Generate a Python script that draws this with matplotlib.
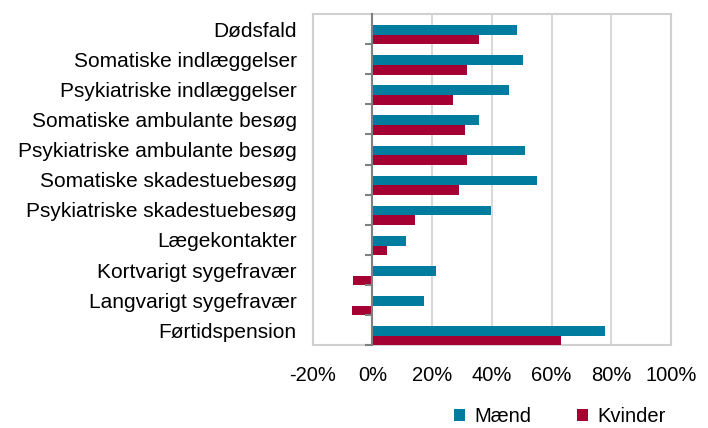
import matplotlib
matplotlib.use("Agg")
import matplotlib.pyplot as plt
import numpy as np
from matplotlib.ticker import FixedLocator

plt.rcParams['font.family'] = ['Liberation Sans', 'DejaVu Sans']

categories = ["Dødsfald", "Somatiske indlæggelser", "Psykiatriske indlæggelser",
              "Somatiske ambulante besøg", "Psykiatriske ambulante besøg",
              "Somatiske skadestuebesøg", "Psykiatriske skadestuebesøg",
              "Lægekontakter", "Kortvarigt sygefravær", "Langvarigt sygefravær",
              "Førtidspension"]
maend = [48.3, 50.4, 45.7, 35.6, 51.0, 55.0, 39.6, 11.2, 21.2, 17.2, 77.8]
kvinder = [35.6, 31.6, 26.9, 30.9, 31.6, 28.9, 14.3, 5.0, -6.4, -7.0, 63.0]
xticks = [-20, 0, 20, 40, 60, 80, 100]
xticklabels = ["-20%", "0%", "20%", "40%", "60%", "80%", "100%"]

c_m = "#007C9E"
c_k = "#A50034"

fig = plt.figure(figsize=(7.08, 4.28), dpi=100)
ax = fig.add_axes([0.4417, 0.1932, 0.9477 - 0.4417, 0.9673 - 0.1932])

y = np.arange(len(categories))
h = 0.32
ax.barh(y + 0.03, maend, height=h, color=c_m, label="Mænd", zorder=3)
ax.barh(y + 0.35, kvinder, height=h, color=c_k, label="Kvinder", zorder=3)

ax.set_xlim(-20, 100)
ax.set_ylim(len(categories) - 0.5, -0.5)
ax.set_xticks(xticks)
ax.set_xticklabels(xticklabels, fontsize=14.5)
ax.set_yticks(y)
ax.set_yticklabels(categories, fontsize=15)
ax.tick_params(axis='both', length=0)
ax.tick_params(axis='x', pad=15)
ax.tick_params(axis='y', pad=11.5)
ax.grid(axis='x', color='#D9D9D9', linewidth=1.5, zorder=0)
for s in ax.spines.values():
    s.set_color('#D0D0D0')
    s.set_linewidth(1.5)

# zero axis with boundary ticks
sec = ax.secondary_yaxis(1/6)
sec.yaxis.set_major_locator(FixedLocator(list(np.arange(len(categories)) + 0.5)))
sec.set_yticklabels([])
sec.tick_params(axis='y', length=5, width=1.5, color='#808080', direction='out')
sec.spines['left'].set_color('#808080')
sec.spines['left'].set_linewidth(1.5)
sec.set_zorder(4)

fig.legend(loc='center left', bbox_to_anchor=(0.641, 0.027), ncol=2, frameon=False,
           fontsize=14.5, handlelength=0.55, handleheight=0.55, columnspacing=2.3,
           handletextpad=0.45, borderpad=0, borderaxespad=0)

fig.savefig("out.png", dpi=100)
